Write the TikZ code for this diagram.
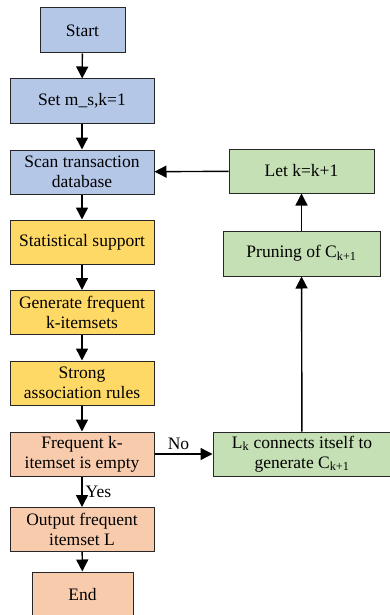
\documentclass[tikz,border=0pt]{standalone}
\usepackage{fontspec}
\setmainfont{Liberation Serif}
\usetikzlibrary{arrows.meta}
\definecolor{cblue}{HTML}{B4C7E7}
\definecolor{cyellow}{HTML}{FFD966}
\definecolor{corange}{HTML}{F8CBAD}
\definecolor{cgreen}{HTML}{C5E0B4}
\tikzset{
  box/.style={draw=black!85,line width=1pt,align=center,inner sep=1pt,
    font=\rmfamily\fontsize{17.5}{20}\selectfont},
  bbox/.style={box,fill=cblue,minimum width=144pt,minimum height=44pt},
  ybox/.style={box,fill=cyellow,minimum width=144pt,minimum height=44pt},
  obox/.style={box,fill=corange,minimum width=144pt,minimum height=44pt},
  gbox/.style={box,fill=cgreen,minimum height=44pt},
  arr/.style={line width=1.4pt,-{Triangle[length=12pt,width=12pt]}},
  lab/.style={font=\rmfamily\fontsize{17.5}{20}\selectfont,inner sep=1pt}
}
\begin{document}
\begin{tikzpicture}[x=1pt,y=-1pt]
\useasboundingbox (0,0) rectangle (389,615);
% left column
\node[bbox,minimum width=85pt,minimum height=45pt] (start) at (82.5,30.5) {Start};
\node[bbox] (set) at (82,101) {Set m\_s,k=1};
\node[bbox] (scan) at (82,172) {Scan transaction\\database};
\node[ybox] (stat) at (82,242) {Statistical support};
\node[ybox] (gen) at (82,312.5) {Generate frequent\\k-itemsets};
\node[ybox] (strong) at (82,383) {Strong\\association rules};
\node[obox] (freq) at (82,454) {Frequent k-\\itemset is empty};
\node[obox] (out) at (82,529.5) {Output frequent\\itemset L};
\node[obox,minimum width=101pt,minimum height=46pt] (end) at (82.5,595) {End};
% right column
\node[gbox,minimum width=145pt] (let) at (301.5,171) {Let k=k+1};
\node[gbox,minimum width=157pt,minimum height=45pt] (prune) at (301.5,253.5) {Pruning of C\textsubscript{k+1}};
\node[gbox,minimum width=178pt] (lk) at (302,454) {L\textsubscript{k} connects itself to\\generate C\textsubscript{k+1}};
% connectors
\foreach \a/\b in {start/set,set/scan,scan/stat,stat/gen,gen/strong,strong/freq,out/end,lk/prune,prune/let,let/scan}
  \draw[arr] (\a) -- (\b);
\draw[arr] (freq) -- node[lab,right,xshift=2pt]{Yes} (out);
\draw[arr] (freq) -- node[lab,above,yshift=3pt,xshift=-5pt]{No} (lk);
\end{tikzpicture}
\end{document}
